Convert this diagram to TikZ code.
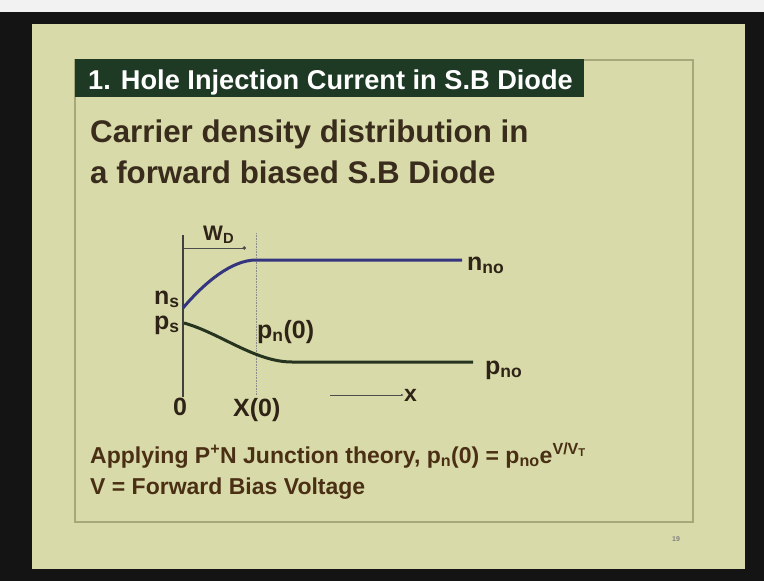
\documentclass[tikz,border=0pt]{standalone}
\usepackage{fontspec}
\setmainfont{Liberation Sans}
\usetikzlibrary{arrows.meta}
\definecolor{slidebg}{HTML}{D8DBA9}
\definecolor{framegray}{HTML}{A6A77A}
\definecolor{titlegreen}{HTML}{1E3A24}
\definecolor{inkbrown}{HTML}{3A2C1C}
\definecolor{notebrown}{HTML}{4A2F14}
\definecolor{nblue}{HTML}{34357E}
\definecolor{pdark}{HTML}{26331F}
\newcommand{\fsz}[1]{\fontsize{#1bp}{#1bp}\selectfont\bfseries}
\begin{document}
\begin{tikzpicture}[x=1bp, y=-1bp,
  every node/.style={inner sep=0pt, anchor=base west},
  titletext/.style={font=\fsz{27.2}, text=white},
  heading/.style={font=\fsz{31.3}, text=inkbrown},
  lbl/.style={font=\fsz{25}, text=inkbrown!80!black},
  note/.style={font=\fsz{23}, text=notebrown},
  ncurve/.style={nblue, line width=3bp},
  pcurve/.style={pdark, line width=3bp},
  axis/.style={black!75, line width=2.5bp}]
	\useasboundingbox (0,0) rectangle (764,581);
	% slide and frames
	\fill[white!90!gray] (0,0) rectangle (764,12);
	\fill[black!92] (0,12) rectangle (764,581);
	\fill[slidebg] (32,24) rectangle (745,569);
	\draw[framegray, line width=1.2bp] (75,60) rectangle (693,522);
	\fill[titlegreen] (75,59) rectangle (584,97);
	\node[titletext] (title) at (88,90) {1. Hole Injection Current in S.B Diode};
	\node[heading] (head1) at (90,143) {Carrier density distribution in};
	\node[heading] (head2) at (90,184) {a forward biased S.B Diode};
	% axis and depletion edge
	\coordinate (axtop) at (183,235);
	\coordinate (axbot) at (183,397);
	\draw[axis] (axtop) -- (axbot);
	\coordinate (xtop) at (256,233);
	\coordinate (xbot) at (256,395);
	\draw[black!45, line width=0.6bp, densely dotted] (xtop) -- (xbot);
	\coordinate (wl) at (184,248);
	\coordinate (wr) at (246,248);
	\draw[black!70, line width=0.7bp, -{Circle[length=3.5bp]}] (wl) -- (wr);
	\node[lbl, font=\fsz{21}] (wd) at (203,240) {W\textsubscript{D}};
	% carrier densities
	\coordinate (ns) at (183,308);
	\coordinate (nd) at (256,260);
	\coordinate (nend) at (462,260);
	\draw[ncurve] (ns) .. controls (205,282) and (232,260) .. (nd) -- (nend);
	\coordinate (ps) at (184,323);
	\coordinate (pd) at (292,362);
	\coordinate (pend) at (473,362);
	\draw[pcurve] (ps) .. controls (220,333) and (255,362) .. (pd) -- (pend);
	\node[lbl] (nslbl) at (154,304) {n\textsubscript{s}};
	\node[lbl] (pslbl) at (154,329) {p\textsubscript{s}};
	\node[lbl] (nno) at (467,270) {n\textsubscript{no}};
	\node[lbl] (pno) at (485,374) {p\textsubscript{no}};
	\node[lbl] (pn0) at (257,338) {p\textsubscript{n}(0)};
	\node[lbl] (zero) at (173,415) {0};
	\node[lbl] (x0) at (233,416) {X(0)};
	\coordinate (xa) at (330,395);
	\node[lbl, font=\fsz{23}, anchor=west] (xlbl) at (404,395) {x};
	\draw[black!70, line width=0.7bp, -{Latex[length=3bp]}] (xa) -- (xlbl.west);
	% notes
	\node[note] (note1) at (90,463) {Applying P\textsuperscript{+}N Junction theory, p\textsubscript{n}(0) = p\textsubscript{no}e\textsuperscript{V/V\textsubscript{T}}};
	\node[note] (note2) at (90,494) {V = Forward Bias Voltage};
	\node[font=\fsz{7}, text=black!50] (pg) at (672,541) {19};
\end{tikzpicture}
\end{document}
